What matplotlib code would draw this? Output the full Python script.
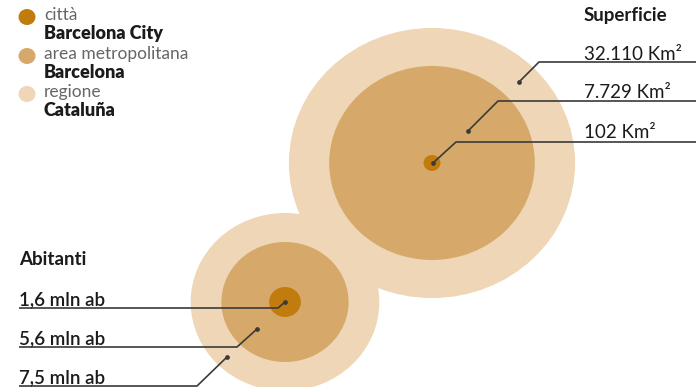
import matplotlib.pyplot as plt
from matplotlib.patches import Ellipse

plt.rcParams['font.family'] = ['Lato', 'DejaVu Sans']

# dati
legend_levels = ['città', 'area metropolitana', 'regione']
legend_names = ['Barcelona City', 'Barcelona', 'Cataluña']
colors = ['#c27c0d', '#d6a96a', '#eed6b6']

sup_title = 'Superficie'
sup_values = [32110, 7729, 102]          # Km² (esterno -> interno)
sup_labels = ['32.110 Km²', '7.729 Km²', '102 Km²']
sup_radius = [135, 97, 8]                # raggi

ab_title = 'Abitanti'
ab_values = [1.6, 5.6, 7.5]              # mln (interno -> esterno)
ab_labels = ['1,6 mln ab', '5,6 mln ab', '7,5 mln ab']
ab_radius = [15, 60, 89]

SX = 1.06        # l'immagine originale e' un po' allargata
ink = '#1b1b1b'
line_c = '#3a3a3a'

fig = plt.figure(figsize=(6.96, 3.87), dpi=100)
ax = fig.add_axes([0, 0, 1, 1])
ax.set_xlim(0, 696)
ax.set_ylim(387, 0)
ax.axis('off')

def cerchi(cx, cy, radii, cols):
    # dal piu grande al piu piccolo
    for r, c in sorted(zip(radii, cols), key=lambda t: -t[0]):
        ax.add_patch(Ellipse((cx, cy), 2 * r * SX, 2 * r, color=c, lw=0))

# superficie (grande)
cerchi(432, 163, sup_radius, [colors[2], colors[1], colors[0]])
# abitanti (piccolo)
cerchi(285, 302, ab_radius, colors)

def leader(xs, ys):
    ax.plot(xs, ys, color=line_c, lw=1.2, solid_capstyle='butt')
    ax.plot(xs[-1], ys[-1], 'o', color=line_c, ms=2.4)

# superficie: testo a destra
ax.text(584, 21, sup_title, fontsize=13.5, fontweight='bold', color=ink)
sup_base = [60, 98, 138]
sup_line = [62, 101, 142]
sup_elbow = [539, 498, 456]
sup_end = [(519, 82), (468, 131), (433, 163)]
for lab, yb, yl, xe, pe in zip(sup_labels, sup_base, sup_line, sup_elbow, sup_end):
    ax.text(584, yb, lab, fontsize=13.5, color=ink)
    leader([696, xe, pe[0]], [yl, yl, pe[1]])

# abitanti: testo a sinistra
ax.text(19, 265, ab_title, fontsize=13.5, fontweight='bold', color=ink)
ab_base = [305, 344, 383]
ab_line = [308, 347, 386]
ab_elbow = [278, 237, 197]
ab_end = [(285, 302), (257, 329), (227, 357)]
for lab, yb, yl, xe, pe in zip(ab_labels, ab_base, ab_line, ab_elbow, ab_end):
    ax.text(19, yb, lab, fontsize=13.5, fontweight='semibold', color=ink)
    leader([19, xe, pe[0]], [yl, yl, pe[1]])

# legenda
leg_y = [17, 56, 94]
for lev, name, c, y in zip(legend_levels, legend_names, colors, leg_y):
    ax.add_patch(Ellipse((27, y), 16 * SX, 16, color=c, lw=0))
    ax.text(44, y + 3, lev, fontsize=12.5, color='#666666')
    ax.text(44, y + 22, name, fontsize=13, fontweight='heavy', color=ink)

fig.savefig('out.png', dpi=100)
